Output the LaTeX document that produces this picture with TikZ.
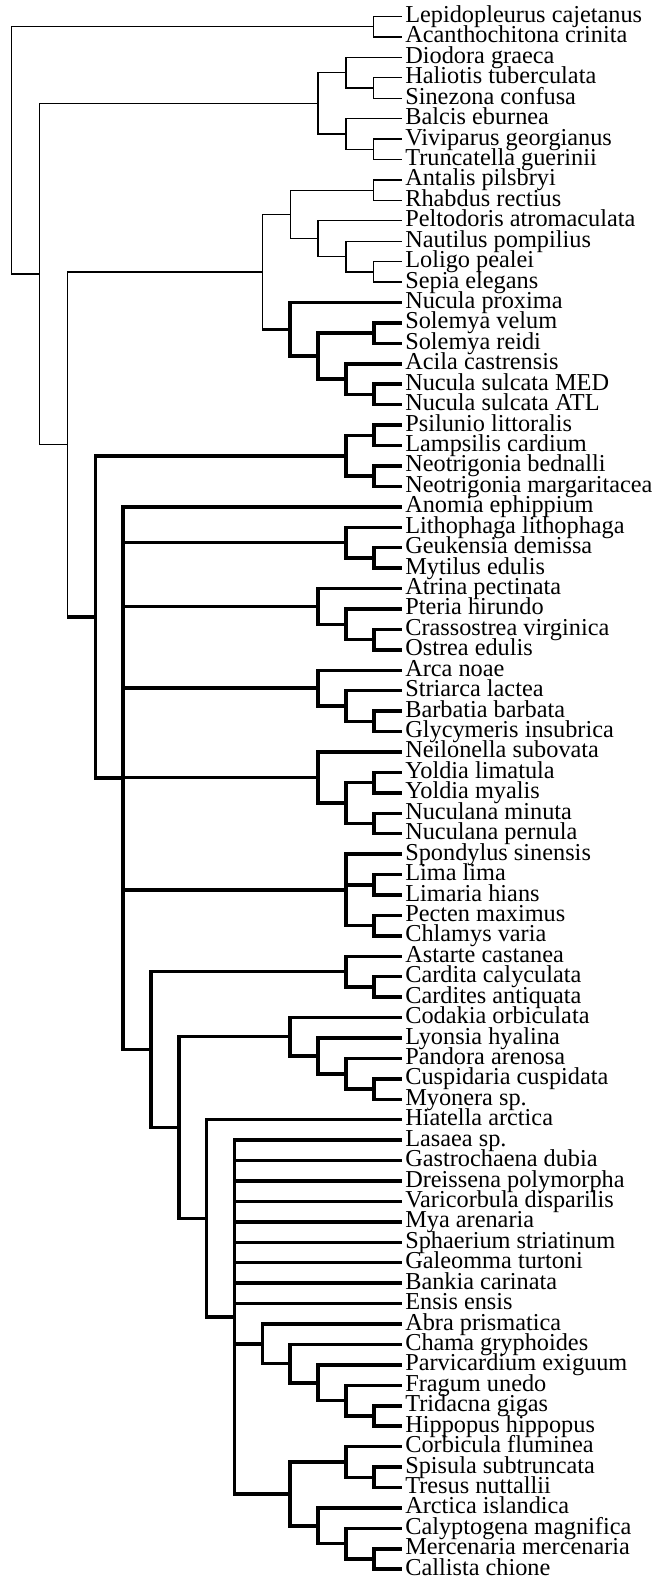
\documentclass[tikz,border=0pt]{standalone}
\usepackage{fontspec}
\setmainfont{Liberation Serif}
\newcommand\nd[3]{\coordinate (#1) at ({11.7+27.85*#2},{16.5+(#3-1)*20.43});}
\newcommand\tn[2]{\draw[thinl] (#1) |- (#2);}
\newcommand\tk[2]{\draw[thickl] (#1) |- (#2);}
\begin{document}
\begin{tikzpicture}[x=1pt,y=-1pt,
  thinl/.style={line width=1.3pt},
  thickl/.style={line width=3.5pt},
  lab/.style={anchor=west,inner xsep=3.5pt,inner ysep=0pt,text height=15pt,text depth=3pt,font=\fontsize{24.3}{26}\selectfont}]
\fill[white] (0,0) rectangle (657,1580);
\useasboundingbox (0,0) rectangle (657,1580);
% leaves
\foreach \nm [count=\i] in {Lepidopleurus cajetanus, Acanthochitona crinita, Diodora graeca, Haliotis tuberculata, Sinezona confusa, Balcis eburnea, Viviparus georgianus, Truncatella guerinii, Antalis pilsbryi, Rhabdus rectius, Peltodoris atromaculata, Nautilus pompilius, Loligo pealei, Sepia elegans, Nucula proxima, Solemya velum, Solemya reidi, Acila castrensis, Nucula sulcata MED, Nucula sulcata ATL, Psilunio littoralis, Lampsilis cardium, Neotrigonia bednalli, Neotrigonia margaritacea, Anomia ephippium, Lithophaga lithophaga, Geukensia demissa, Mytilus edulis, Atrina pectinata, Pteria hirundo, Crassostrea virginica, Ostrea edulis, Arca noae, Striarca lactea, Barbatia barbata, Glycymeris insubrica, Neilonella subovata, Yoldia limatula, Yoldia myalis, Nuculana minuta, Nuculana pernula, Spondylus sinensis, Lima lima, Limaria hians, Pecten maximus, Chlamys varia, Astarte castanea, Cardita calyculata, Cardites antiquata, Codakia orbiculata, Lyonsia hyalina, Pandora arenosa, Cuspidaria cuspidata, Myonera sp., Hiatella arctica, Lasaea sp., Gastrochaena dubia, Dreissena polymorpha, Varicorbula disparilis, Mya arenaria, Sphaerium striatinum, Galeomma turtoni, Bankia carinata, Ensis ensis, Abra prismatica, Chama gryphoides, Parvicardium exiguum, Fragum unedo, Tridacna gigas, Hippopus hippopus, Corbicula fluminea, Spisula subtruncata, Tresus nuttallii, Arctica islandica, Calyptogena magnifica, Mercenaria mercenaria, Callista chione}{
  \node[lab] (l\i) at (401.6,{16.5+(\i-1)*20.43}) {\nm};
}
% internal nodes
\nd{chit}{13}{1.5}
\nd{gA1}{13}{4.5}\nd{gA}{12}{3.75}
\nd{gB1}{13}{7.5}\nd{gB}{12}{6.75}
\nd{gast}{11}{5.25}
\nd{sc}{13}{9.5}
\nd{ce3}{13}{13.5}\nd{ce2}{12}{12.75}\nd{ce1}{11}{11.875}
\nd{sce}{10}{10.6875}
\nd{pr4}{13}{16.5}\nd{pr5}{13}{19.5}\nd{pr3}{12}{18.75}\nd{pr2}{11}{17.625}\nd{pr1}{10}{16.3125}
\nd{n9}{9}{13.5}
\nd{pa1}{13}{21.5}\nd{pa2}{13}{23.5}\nd{pa}{12}{22.5}
\nd{my1}{13}{27.5}\nd{my}{12}{26.75}
\nd{pt2}{13}{31.5}\nd{pt1}{12}{30.75}\nd{pt}{11}{29.875}
\nd{ar2}{13}{35.5}\nd{ar1}{12}{34.75}\nd{ar}{11}{33.875}
\nd{nu2}{13}{38.5}\nd{nu3}{13}{40.5}\nd{nu1}{12}{39.5}\nd{nu}{11}{38.25}
\nd{pe1}{13}{43.5}\nd{pe2}{13}{45.5}\nd{pe}{12}{43.75}
\nd{ca1}{13}{48.5}\nd{ca}{12}{47.75}
\nd{an3}{13}{53.5}\nd{an2}{12}{52.75}\nd{an1}{11}{51.875}\nd{an}{10}{50.9375}
\nd{fr1}{13}{69.5}\nd{fr}{12}{68.75}\nd{pv}{11}{67.875}\nd{ch}{10}{66.9375}\nd{ab}{9}{65.96875}
\nd{co1}{13}{72.5}\nd{co}{12}{71.75}
\nd{cy1}{13}{76.5}\nd{cy}{12}{75.75}\nd{ac}{11}{74.875}
\nd{ve}{10}{73.3125}
\nd{n8}{8}{64.65625}
\nd{n7}{7}{59.828125}
\nd{n6}{6}{55.3828125}
\nd{n5}{5}{51.56640625}
\nd{n4}{4}{38.283203}
\nd{n3}{3}{30.391602}
\nd{n2}{2}{21.945801}
\nd{n1}{1}{13.597900}
\nd{n0}{0}{7.548950}
% thin part
\tn{chit}{l1.west}\tn{chit}{l2.west}
\tn{gA1}{l4.west}\tn{gA1}{l5.west}\tn{gA}{l3.west}\tn{gA}{gA1}
\tn{gB1}{l7.west}\tn{gB1}{l8.west}\tn{gB}{l6.west}\tn{gB}{gB1}
\tn{gast}{gA}\tn{gast}{gB}
\tn{sc}{l9.west}\tn{sc}{l10.west}
\tn{ce3}{l13.west}\tn{ce3}{l14.west}
\tn{ce2}{l12.west}\tn{ce2}{ce3}
\tn{ce1}{l11.west}\tn{ce1}{ce2}
\tn{sce}{sc}\tn{sce}{ce1}
\tn{n9}{sce}
\draw[thinl] (n9) -- (n9 |- pr1);
\draw[thickl] (n9 |- pr1) -- (pr1);
\tn{n2}{n9}
\draw[thinl] (n2) -- (n2 |- n3);
\draw[thickl] (n2 |- n3) -- (n3);
\tn{n1}{gast}\tn{n1}{n2}
\tn{n0}{chit}\tn{n0}{n1}
% protobranchs
\tk{pr1}{l15.west}\tk{pr1}{pr2}
\tk{pr2}{pr4}\tk{pr2}{pr3}
\tk{pr4}{l16.west}\tk{pr4}{l17.west}
\tk{pr3}{l18.west}\tk{pr3}{pr5}
\tk{pr5}{l19.west}\tk{pr5}{l20.west}
% palaeoheterodonts
\tk{pa1}{l21.west}\tk{pa1}{l22.west}
\tk{pa2}{l23.west}\tk{pa2}{l24.west}
\tk{pa}{pa1}\tk{pa}{pa2}
% pteriomorphs etc.
\tk{my1}{l27.west}\tk{my1}{l28.west}\tk{my}{l26.west}\tk{my}{my1}
\tk{pt2}{l31.west}\tk{pt2}{l32.west}\tk{pt1}{l30.west}\tk{pt1}{pt2}\tk{pt}{l29.west}\tk{pt}{pt1}
\tk{ar2}{l35.west}\tk{ar2}{l36.west}\tk{ar1}{l34.west}\tk{ar1}{ar2}\tk{ar}{l33.west}\tk{ar}{ar1}
\tk{nu2}{l38.west}\tk{nu2}{l39.west}\tk{nu3}{l40.west}\tk{nu3}{l41.west}
\tk{nu1}{nu2}\tk{nu1}{nu3}\tk{nu}{l37.west}\tk{nu}{nu1}
\tk{pe1}{l43.west}\tk{pe1}{l44.west}\tk{pe2}{l45.west}\tk{pe2}{l46.west}
\tk{pe}{l42.west}\tk{pe}{pe1}\tk{pe}{pe2}
% heterodonts
\tk{ca1}{l48.west}\tk{ca1}{l49.west}\tk{ca}{l47.west}\tk{ca}{ca1}
\tk{an3}{l53.west}\tk{an3}{l54.west}\tk{an2}{l52.west}\tk{an2}{an3}
\tk{an1}{l51.west}\tk{an1}{an2}\tk{an}{l50.west}\tk{an}{an1}
\tk{fr1}{l69.west}\tk{fr1}{l70.west}\tk{fr}{l68.west}\tk{fr}{fr1}
\tk{pv}{l67.west}\tk{pv}{fr}\tk{ch}{l66.west}\tk{ch}{pv}
\tk{ab}{l65.west}\tk{ab}{ch}
\tk{co1}{l72.west}\tk{co1}{l73.west}\tk{co}{l71.west}\tk{co}{co1}
\tk{cy1}{l76.west}\tk{cy1}{l77.west}\tk{cy}{l75.west}\tk{cy}{cy1}
\tk{ac}{l74.west}\tk{ac}{cy}
\tk{ve}{co}\tk{ve}{ac}
\foreach \i in {56,...,64}{\tk{n8}{l\i.west}}
\tk{n8}{ab}\tk{n8}{ve}
\tk{n7}{l55.west}\tk{n7}{n8}
\tk{n6}{an}\tk{n6}{n7}
\tk{n5}{ca}\tk{n5}{n6}
\tk{n4}{l25.west}\tk{n4}{my}\tk{n4}{pt}\tk{n4}{ar}\tk{n4}{nu}\tk{n4}{pe}\tk{n4}{n5}
\tk{n3}{pa}\tk{n3}{n4}
\end{tikzpicture}
\end{document}
